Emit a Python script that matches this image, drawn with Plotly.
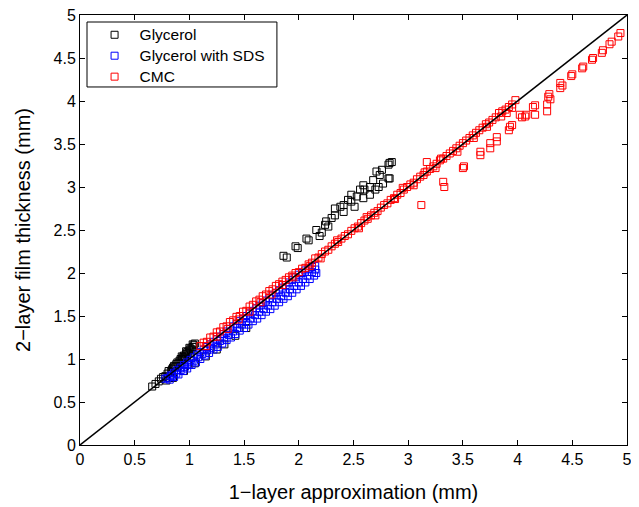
import plotly.graph_objects as go

# Glycerol (black)
gly_x = [0.66, 0.69, 0.72, 0.74, 0.76, 0.78, 0.80, 0.81, 0.83, 0.84, 0.85, 0.86, 0.87, 0.88, 0.89, 0.90,
         0.91, 0.92, 0.93, 0.94, 0.95, 0.96, 0.97, 0.98, 0.99, 1.00, 1.01, 1.02, 1.03, 1.04, 1.05, 1.03,
         1.00, 0.97, 0.93, 0.79, 0.82,
         0.85, 0.95, 1.05, 1.15, 1.25, 1.32, 1.42, 1.52,
         1.86, 1.89, 1.97, 1.99, 2.07, 2.09, 2.16, 2.19, 2.21, 2.24, 2.25, 2.27, 2.30, 2.33, 2.33, 2.38,
         2.41, 2.41, 2.45, 2.48, 2.48, 2.51, 2.53, 2.56, 2.59, 2.59, 2.60, 2.65, 2.65, 2.68, 2.70, 2.71,
         2.73, 2.74, 2.76, 2.77, 2.82, 2.82, 2.83, 2.83, 2.85]
gly_y = [0.68, 0.71, 0.74, 0.77, 0.79, 0.80, 0.83, 0.86, 0.85, 0.88, 0.90, 0.92, 0.91, 0.94, 0.96, 0.95,
         0.98, 1.00, 0.99, 1.02, 1.04, 1.03, 1.06, 1.08, 1.07, 1.10, 1.12, 1.11, 1.14, 1.16, 1.18, 1.17,
         1.13, 1.09, 1.03, 0.75, 0.78,
         0.78, 0.86, 0.95, 1.03, 1.11, 1.17, 1.27, 1.36,
         2.20, 2.18, 2.31, 2.29, 2.40, 2.38, 2.50, 2.43, 2.47, 2.56, 2.60, 2.54, 2.64, 2.67, 2.75, 2.77,
         2.71, 2.79, 2.85, 2.91, 2.83, 2.77, 2.89, 2.97, 3.02, 2.87, 2.97, 3.00, 2.91, 3.08, 2.97, 3.18,
         3.00, 3.14, 3.20, 3.04, 3.10, 3.26, 3.28, 3.10, 3.29]

# Glycerol with SDS (blue)
sds_x = [0.78, 0.80, 0.83, 0.86, 0.89, 0.92, 0.95, 0.98, 1.01, 1.04, 1.07, 1.10, 1.13, 1.16, 1.19, 1.22,
         1.25, 1.28, 1.31, 1.34, 1.37, 1.40, 1.43, 1.46, 1.49, 1.52, 1.55, 1.58, 1.61, 1.64, 1.67, 1.70,
         1.73, 1.76, 1.79, 1.82, 1.85, 1.88, 1.91, 1.94, 1.97, 2.00, 2.03, 2.06, 2.09, 2.12, 2.15,
         0.84, 0.88, 0.92, 0.96, 1.00, 1.04, 1.08, 1.12, 1.16, 1.20, 1.24, 1.28, 1.32, 1.36, 1.40, 1.44,
         1.48, 1.52, 1.56, 1.60, 1.64, 1.68, 1.72, 1.76, 1.80, 1.84, 1.88, 1.92, 1.96, 2.00, 2.04, 2.08,
         2.12, 2.15,
         0.82, 0.86, 0.90, 0.94, 0.98, 1.02, 1.06, 1.10, 1.14, 1.18, 1.22, 1.26, 1.30, 1.34, 1.38, 1.42,
         1.46, 1.50, 1.54, 1.58, 1.62, 1.66, 1.70, 1.74, 1.78, 1.82, 1.86, 1.90, 1.94, 1.98, 2.02, 2.06,
         2.10, 2.14, 2.16]
sds_y = [0.77, 0.78, 0.81, 0.84, 0.87, 0.90, 0.93, 0.96, 0.99, 1.02, 1.05, 1.08, 1.11, 1.14, 1.17, 1.20,
         1.23, 1.26, 1.29, 1.32, 1.35, 1.38, 1.41, 1.44, 1.47, 1.50, 1.53, 1.56, 1.59, 1.62, 1.65, 1.68,
         1.71, 1.74, 1.77, 1.80, 1.83, 1.86, 1.89, 1.92, 1.95, 1.98, 2.00, 2.03, 2.05, 2.07, 2.08,
         0.80, 0.83, 0.87, 0.91, 0.94, 0.98, 1.02, 1.06, 1.10, 1.13, 1.17, 1.21, 1.24, 1.28, 1.32, 1.36,
         1.40, 1.43, 1.47, 1.51, 1.55, 1.58, 1.62, 1.66, 1.70, 1.73, 1.77, 1.81, 1.85, 1.89, 1.93, 1.97,
         2.01, 2.04,
         0.76, 0.79, 0.82, 0.86, 0.89, 0.93, 0.96, 1.00, 1.04, 1.07, 1.11, 1.14, 1.18, 1.22, 1.25, 1.29,
         1.33, 1.36, 1.40, 1.44, 1.47, 1.51, 1.55, 1.58, 1.62, 1.66, 1.70, 1.73, 1.77, 1.81, 1.85, 1.89,
         1.93, 1.97, 2.00]

# CMC (red)
cmc_x = [1.10, 1.13, 1.16, 1.19, 1.22, 1.25, 1.28, 1.31, 1.34, 1.37, 1.40, 1.43, 1.46, 1.49, 1.52, 1.55,
         1.58, 1.61, 1.64, 1.67, 1.70, 1.73, 1.76, 1.79, 1.82, 1.85, 1.88, 1.91, 1.94, 1.97,
         1.15, 1.25, 1.35, 1.45, 1.55, 1.65, 1.75, 1.85, 1.95,
         2.00, 2.03, 2.06, 2.09, 2.12, 2.15, 2.18, 2.21, 2.24, 2.27, 2.30, 2.33, 2.36, 2.39, 2.42, 2.45,
         2.48, 2.51, 2.54, 2.57, 2.60, 2.63, 2.66, 2.69, 2.72, 2.75, 2.78, 2.81, 2.84, 2.87, 2.90, 2.93,
         2.96, 2.99, 3.02, 3.05, 3.08, 3.11, 3.14, 3.17, 3.20, 3.23, 3.26, 3.29, 3.32, 3.35, 3.38, 3.41,
         3.44, 3.47, 3.50, 3.53, 3.56, 3.59, 3.62, 3.65, 3.68, 3.71, 3.74, 3.77, 3.80, 3.83, 3.86, 3.89,
         3.92, 3.95, 3.98,
         2.10, 2.20, 2.35, 2.55, 2.62, 2.70, 2.88, 2.95, 3.05, 3.15, 3.25, 3.30, 3.45, 3.60, 3.72, 3.85,
         3.90, 3.95, 3.17,
         3.12, 3.32, 3.33, 3.50, 3.51, 3.66, 3.66, 3.75, 3.75, 3.81, 3.81, 3.92, 3.95, 3.93, 4.02, 4.04,
         4.07, 4.08, 4.16, 4.16, 4.14, 4.27, 4.27, 4.28, 4.29, 4.30, 4.39, 4.39, 4.41, 4.49, 4.50, 4.59,
         4.60, 4.68, 4.69, 4.77, 4.78, 4.84, 4.86, 4.92, 4.94]
cmc_y = [1.15, 1.19, 1.20, 1.25, 1.26, 1.31, 1.32, 1.37, 1.38, 1.43, 1.45, 1.49, 1.50, 1.55, 1.56, 1.61,
         1.63, 1.67, 1.69, 1.73, 1.75, 1.79, 1.81, 1.85, 1.87, 1.90, 1.92, 1.95, 1.97, 2.00,
         1.15, 1.26, 1.35, 1.46, 1.55, 1.66, 1.75, 1.86, 1.95,
         2.01, 2.05, 2.06, 2.10, 2.12, 2.17, 2.18, 2.22, 2.25, 2.27, 2.31, 2.34, 2.36, 2.40, 2.43, 2.45,
         2.49, 2.52, 2.54, 2.58, 2.61, 2.63, 2.67, 2.70, 2.72, 2.76, 2.79, 2.81, 2.85, 2.87, 2.91, 2.93,
         2.97, 3.00, 3.03, 3.05, 3.09, 3.12, 3.14, 3.18, 3.21, 3.24, 3.27, 3.31, 3.33, 3.36, 3.39, 3.42,
         3.45, 3.48, 3.51, 3.54, 3.57, 3.60, 3.63, 3.66, 3.69, 3.73, 3.75, 3.78, 3.81, 3.86, 3.88, 3.90,
         3.93, 3.96, 4.01,
         2.08, 2.17, 2.38, 2.52, 2.65, 2.67, 2.86, 2.99, 3.02, 3.17, 3.22, 3.33, 3.41, 3.57, 3.70, 3.82,
         3.86, 3.92, 3.29,
         2.79, 3.06, 3.00, 3.22, 3.24, 3.41, 3.37, 3.51, 3.45, 3.58, 3.53, 3.66, 3.72, 3.70, 3.84, 3.81,
         3.82, 3.84, 3.95, 3.84, 3.93, 3.88, 3.96, 4.05, 4.08, 4.02, 4.21, 4.15, 4.18, 4.29, 4.31, 4.38,
         4.40, 4.48, 4.50, 4.56, 4.59, 4.66, 4.69, 4.75, 4.79]

diag = [0, 5]
ticks = [0, 0.5, 1, 1.5, 2, 2.5, 3, 3.5, 4, 4.5, 5]
tick_text = ["0", "0.5", "1", "1.5", "2", "2.5", "3", "3.5", "4", "4.5", "5"]
series_names = ["Glycerol", "Glycerol with SDS", "CMC"]

FONT = "Liberation Sans, Arial, sans-serif"
msz = 7


def legend_label(s):
    return '<span style="font-size:15.5px">' + s + '</span>'


fig = go.Figure()
fig.add_trace(go.Scatter(x=gly_x, y=gly_y, mode="markers", name=legend_label(series_names[0]),
                         marker=dict(symbol="square-open", size=msz, color="black", line=dict(width=1))))
fig.add_trace(go.Scatter(x=sds_x, y=sds_y, mode="markers", name=legend_label(series_names[1]),
                         marker=dict(symbol="square-open", size=msz, color="#0000ff", line=dict(width=1))))
fig.add_trace(go.Scatter(x=cmc_x, y=cmc_y, mode="markers", name=legend_label(series_names[2]),
                         marker=dict(symbol="square-open", size=msz, color="#ff0000", line=dict(width=1))))
fig.add_trace(go.Scatter(x=diag, y=diag, mode="lines", showlegend=False,
                         line=dict(color="black", width=1.5), hoverinfo="skip"))

axis_common = dict(range=[0, 5], tickmode="array", tickvals=ticks, ticktext=tick_text,
                   showgrid=False, zeroline=False, showline=True, linecolor="black", linewidth=1,
                   mirror="ticks", ticks="inside", ticklen=5, tickcolor="black", tickwidth=1,
                   automargin=False, ticklabeloverflow="allow",
                   tickfont=dict(family=FONT, size=16, color="black"))

# the page body adds an 8px offset, so the figure is 8px smaller and margins shifted
fig.update_layout(
    width=631, height=499,
    margin=dict(l=72, r=12, t=7, b=62),
    paper_bgcolor="white", plot_bgcolor="white",
    font=dict(family=FONT, color="black"),
    xaxis=dict(**axis_common, title=dict(text="1\u2212layer approximation (mm)",
                                         font=dict(family=FONT, size=20), standoff=17)),
    yaxis=dict(**axis_common, title=dict(text="2\u2212layer film thickness (mm)",
                                         font=dict(family=FONT, size=20), standoff=17)),
    legend=dict(x=0.0175, y=0.990, xanchor="left", yanchor="top",
                bgcolor="rgba(0,0,0,0)", borderwidth=0,
                font=dict(family=FONT, size=13.8, color="black"), itemwidth=40),
    shapes=[dict(type="rect", xref="paper", yref="paper",
                 x0=0.0128, x1=0.360, y0=0.8326, y1=0.9837,
                 line=dict(color="black", width=1), fillcolor="white", layer="above")],
    showlegend=True,
)

fig.write_html("out.html")
